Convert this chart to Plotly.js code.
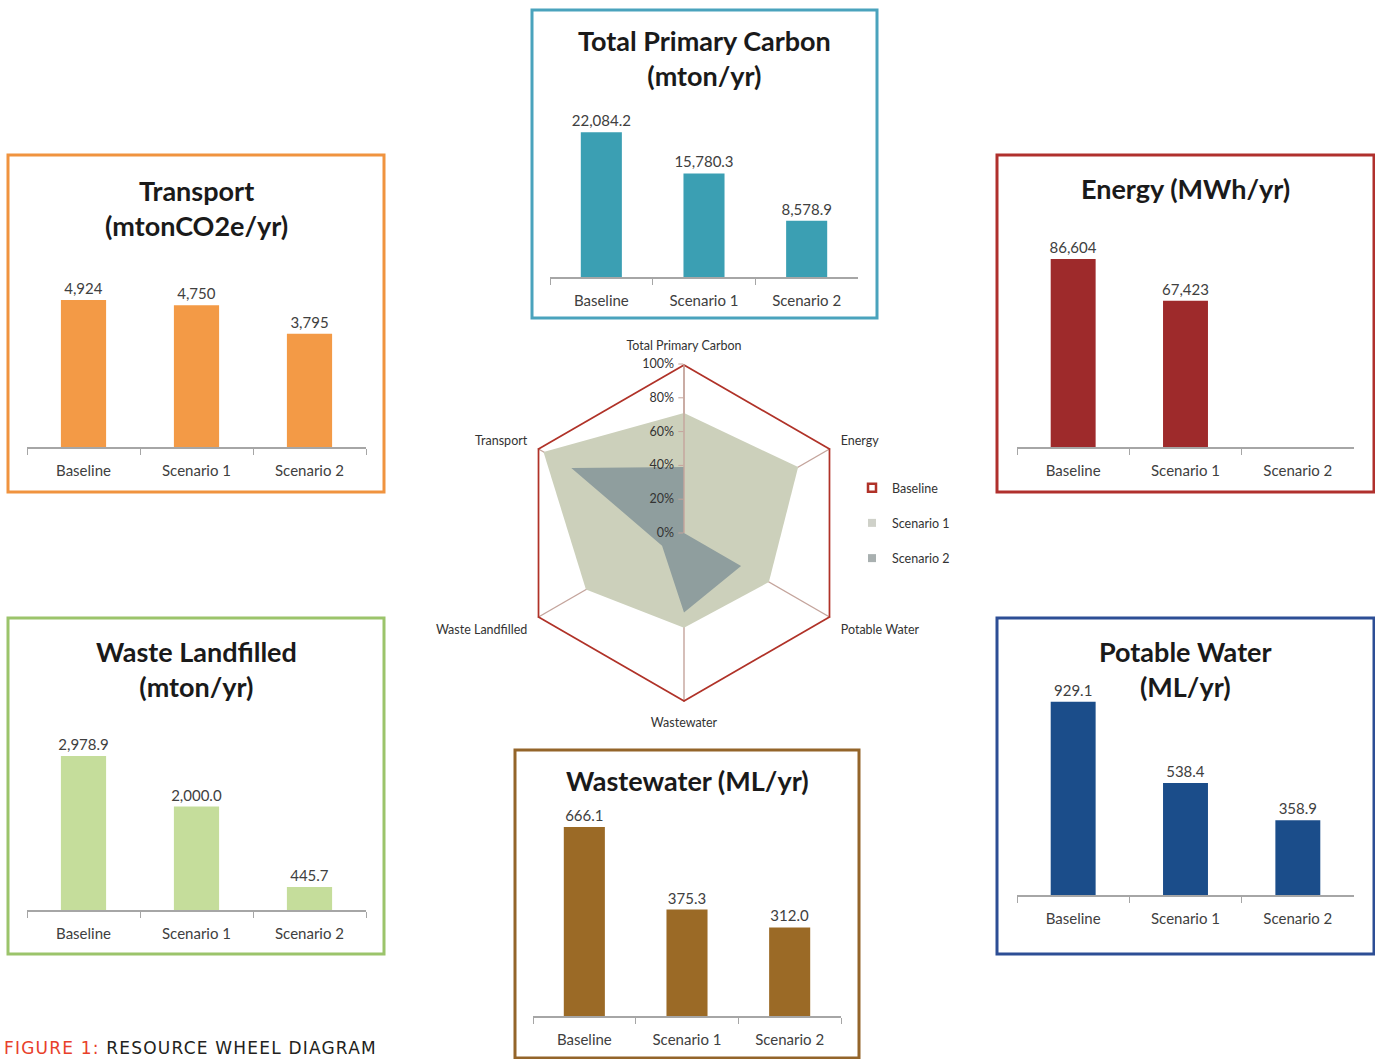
<!DOCTYPE html>
<html>
<head>
<meta charset="utf-8">
<script src="https://cdn.plot.ly/plotly-3.0.1.min.js"></script>
<style>html,body{margin:0;padding:0;background:#fff;}#chart{width:1375px;height:1059px;}</style>
</head>
<body>
<div id="chart"></div>
<script>
// ---------------- DATA ----------------
const categories = ['Baseline', 'Scenario 1', 'Scenario 2'];
const transportValues = [4924, 4750, 3795];
const carbonValues = [22084.2, 15780.3, 8578.9];
const energyValues = [86604, 67423, null];
const wasteValues = [2978.9, 2000.0, 445.7];
const wastewaterValues = [666.1, 375.3, 312.0];
const potableValues = [929.1, 538.4, 358.9];

const radarAxes = ['Total Primary Carbon', 'Energy', 'Potable Water', 'Wastewater', 'Waste Landfilled', 'Transport'];
const radarBaseline = [1, 1, 1, 1, 1, 1];
const radarScenario1 = [0.71, 0.78, 0.58, 0.56, 0.67, 0.96];
const radarScenario2 = [0.39, 0.0, 0.39, 0.47, 0.15, 0.77];
const seriesNames = ['Baseline', 'Scenario 1', 'Scenario 2'];

// ---------------- LAYOUT HELPERS ----------------
const W = 1375, H = 1059;
const px = x => x / W;
const py = y => 1 - y / H;
const FONT = 'Lato, "Open Sans", sans-serif';

const panels = [
  {key: '', values: transportValues, fmt: ',.0f', color: '#f39a46', border: '#f0933f',
   title: 'Transport<br>(mtonCO2e/yr)', titleY: 208, box: [8, 155, 384, 492],
   xd: [27, 366], top: 268, bottom: 447, ymax: 6000},
  {key: '2', values: carbonValues, fmt: ',.1f', color: '#3b9fb3', border: '#4aa3bd',
   title: 'Total Primary Carbon<br>(mton/yr)', titleY: 58, box: [532, 10, 877, 318],
   xd: [550, 858], top: 113, bottom: 277, ymax: 25000},
  {key: '3', values: energyValues, fmt: ',.0f', color: '#9e2a2b', border: '#b0302d',
   title: 'Energy (MWh/yr)', titleY: 189, box: [997, 155, 1374, 492],
   xd: [1017, 1354], top: 230, bottom: 447, ymax: 100000},
  {key: '4', values: wasteValues, fmt: ',.1f', color: '#c5dd9b', border: '#9bc46b',
   title: 'Waste Landfilled<br>(mton/yr)', titleY: 669, box: [8, 618, 384, 954],
   xd: [27, 366], top: 729, bottom: 910, ymax: 3500},
  {key: '5', values: wastewaterValues, fmt: ',.1f', color: '#9b6a26', border: '#94652a',
   title: 'Wastewater (ML/yr)', titleY: 780, box: [515, 750, 859, 1058],
   xd: [533, 841], top: 789, bottom: 1016, ymax: 800},
  {key: '6', values: potableValues, fmt: ',.1f', color: '#1b4d8a', border: '#2d4e95',
   title: 'Potable Water<br>(ML/yr)', titleY: 669, box: [997, 618, 1374, 954],
   xd: [1017, 1354], top: 687, bottom: 895, ymax: 1000}
];

const traces = [];
const layout = {
  width: W, height: H,
  margin: {l: 0, r: 0, t: 0, b: 0},
  paper_bgcolor: '#ffffff', plot_bgcolor: 'rgba(0,0,0,0)',
  showlegend: true,
  bargap: 0.6,
  font: {family: FONT, color: '#404040'},
  shapes: [], annotations: []
};

panels.forEach(p => {
  const xa = 'x' + p.key, ya = 'y' + p.key;
  traces.push({
    type: 'bar', x: categories, y: p.values, xaxis: xa, yaxis: ya,
    marker: {color: p.color}, showlegend: false,
    texttemplate: '%{y:' + p.fmt + '}', textposition: 'outside', cliponaxis: false,
    constraintext: 'none',
    textfont: {family: FONT, size: 15, color: '#404040'}, hoverinfo: 'x+y'
  });
  layout['xaxis' + p.key] = {
    domain: [px(p.xd[0]), px(p.xd[1])], anchor: ya, type: 'category',
    showline: true, linecolor: '#a6a6a6', linewidth: 1.5,
    ticks: 'outside', tickson: 'boundaries', ticklen: 6, tickcolor: '#a6a6a6',
    ticklabelstandoff: 9,
    tickfont: {family: FONT, size: 15, color: '#404040'}, showgrid: false, fixedrange: true
  };
  layout['yaxis' + p.key] = {
    domain: [py(p.bottom), py(p.top)], anchor: xa, range: [0, p.ymax],
    visible: false, showgrid: false, zeroline: false, fixedrange: true
  };
  layout.shapes.push({
    type: 'rect', xref: 'paper', yref: 'paper',
    x0: px(p.box[0]), x1: px(p.box[2]), y0: py(p.box[3]), y1: py(p.box[1]),
    line: {color: p.border, width: 3}, fillcolor: 'rgba(0,0,0,0)'
  });
  layout.annotations.push({
    xref: 'paper', yref: 'paper', x: px((p.box[0] + p.box[2]) / 2), y: py(p.titleY),
    xanchor: 'center', yanchor: 'middle', showarrow: false, text: '<b>' + p.title + '</b>',
    font: {family: FONT, size: 27, color: '#1a1a1a'}
  });
});

// ---------------- RADAR ----------------
const closeLoop = a => a.concat([a[0]]);
const thetaClosed = closeLoop(radarAxes);
traces.push({
  type: 'scatterpolar', r: closeLoop(radarScenario1), theta: thetaClosed, subplot: 'polar',
  mode: 'lines', fill: 'toself', fillcolor: '#ccd0bb', line: {width: 0, color: '#ccd0bb'},
  name: seriesNames[1], showlegend: false
});
traces.push({
  type: 'scatterpolar', r: closeLoop(radarScenario2), theta: thetaClosed, subplot: 'polar',
  mode: 'lines', fill: 'toself', fillcolor: '#8f9e9e', line: {width: 0, color: '#8f9e9e'},
  name: seriesNames[2], showlegend: false
});
traces.push({
  type: 'scatterpolar', r: closeLoop(radarBaseline), theta: thetaClosed, subplot: 'polar',
  mode: 'lines', line: {width: 3.5, color: '#b03228'},
  name: seriesNames[0], showlegend: false, cliponaxis: false
});
// legend entries
const legendStyles = [
  {symbol: 'square-open', color: '#b03228', lw: 2.5},
  {symbol: 'square', color: '#cfd1c9', lw: 0},
  {symbol: 'square', color: '#a9b0b0', lw: 0}
];
seriesNames.forEach((n, i) => {
  traces.push({
    type: 'scatterpolar', r: [null], theta: [radarAxes[0]], subplot: 'polar',
    mode: 'markers', name: n, legendgroup: 'g' + i, showlegend: true,
    marker: {symbol: legendStyles[i].symbol, size: 8, color: legendStyles[i].color,
             line: {width: legendStyles[i].lw, color: legendStyles[i].color}}
  });
});

layout.polar = {
  domain: {x: [px(515), px(853)], y: [py(702), py(364)]},
  gridshape: 'linear', bgcolor: 'rgba(0,0,0,0)',
  angularaxis: {
    direction: 'clockwise', rotation: 90, showline: false, showgrid: true,
    gridcolor: '#c4a49c', gridwidth: 1.4, ticks: 'outside', ticklen: 9,
    tickcolor: 'rgba(0,0,0,0)', layer: 'above traces',
    tickfont: {family: FONT, size: 12.5, color: '#333333'}
  },
  radialaxis: {
    range: [0, 1], dtick: 0.2, tickformat: '.0%', angle: 90, tickangle: 90,
    showgrid: false, showline: true, linecolor: '#c4a49c', linewidth: 1.4,
    ticks: 'outside', ticklen: 5, tickcolor: '#c4a49c', side: 'counterclockwise',
    layer: 'above traces', tickfont: {family: FONT, size: 12.5, color: '#333333'}
  }
};
layout.legend = {
  x: px(852), y: py(473), xanchor: 'left', yanchor: 'top',
  traceorder: 'grouped', tracegroupgap: 16, itemwidth: 30,
  bgcolor: 'rgba(0,0,0,0)', font: {family: FONT, size: 12.5, color: '#333333'}
};

// caption
layout.annotations.push({
  xref: 'paper', yref: 'paper', x: px(2), y: py(1048), xanchor: 'left', yanchor: 'middle',
  showarrow: false,
  text: '<span style="letter-spacing:1.2px"><span style="color:#e8402a">FIGURE 1:</span> RESOURCE WHEEL DIAGRAM</span>',
  font: {family: '"DejaVu Sans", sans-serif', size: 17, color: '#231f20'}
});

Plotly.newPlot('chart', traces, layout, {displayModeBar: false, staticPlot: true});
</script>
</body>
</html>
